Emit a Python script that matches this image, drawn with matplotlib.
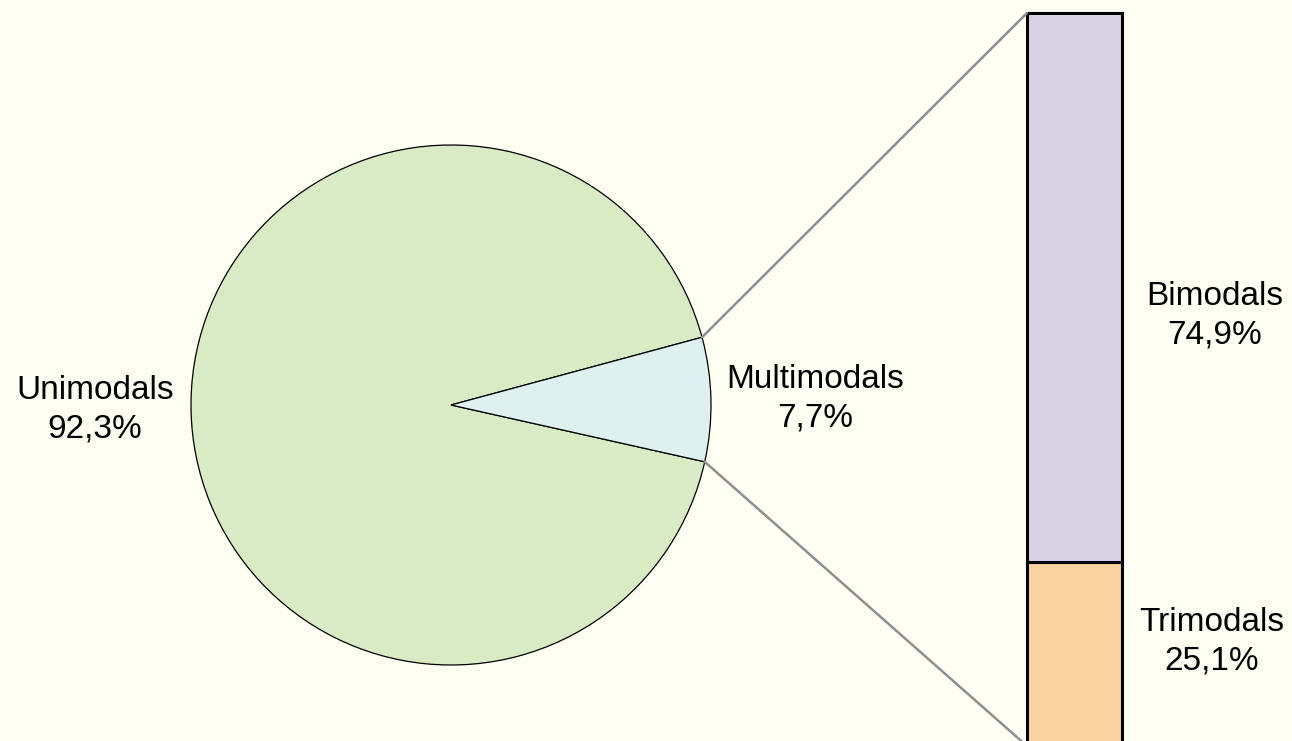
import matplotlib
matplotlib.use("Agg")
import matplotlib.pyplot as plt
from matplotlib.patches import ConnectionPatch
import numpy as np

# pie data
pie_labels = ["Unimodals", "Multimodals"]
pie_values = [92.3, 7.7]
pie_colors = ["#D8EBC5", "#DFF0F0"]

# breakdown of the multimodal slice
bar_labels = ["Trimodals", "Bimodals"]
bar_values = [25.1, 74.9]
bar_colors = ["#FAD1A0", "#D9D2E4"]

W, H = 1292, 741
BG = "#FEFFF2"

plt.rcParams["font.family"] = ["Liberation Sans", "DejaVu Sans"]


def pct(v):
    return f"{v:.1f}%".replace(".", ",")


fig = plt.figure(figsize=(W / 100, H / 100), dpi=100, facecolor=BG)

# pie: centre (451, 405) px from top, radius 260 px
cx, cy, r = 451, H - 405, 260
ax_pie = fig.add_axes([(cx - r) / W, (cy - r) / H, 2 * r / W, 2 * r / H])
ax_pie.set_facecolor("none")
start = 15.1
wedges, _ = ax_pie.pie(
    pie_values,
    colors=pie_colors,
    startangle=start,
    radius=1,
    wedgeprops=dict(edgecolor="black", linewidth=0.9),
)
ax_pie.set_xlim(-1, 1)
ax_pie.set_ylim(-1, 1)
ax_pie.set_aspect("equal")
ax_pie.axis("off")

# stacked bar on the right, bottom runs off the canvas
bx0, bx1, btop = 1027, 1122, H - 13
ax_bar = fig.add_axes([bx0 / W, -5 / H, (bx1 - bx0) / W, (btop + 5) / H])
ax_bar.set_facecolor("none")
bottom = 0
for val, col in zip(bar_values, bar_colors):
    ax_bar.bar(0, val, width=1, bottom=bottom, color=col,
               edgecolor="black", linewidth=2.2, clip_on=False)
    bottom += val
ax_bar.set_xlim(-0.5, 0.5)
ax_bar.set_ylim(0, sum(bar_values))
ax_bar.axis("off")

# connector lines from the multimodal wedge edges to the bar corners
theta1 = np.deg2rad(wedges[1].theta1)
theta2 = np.deg2rad(wedges[1].theta2)
for th, yb in [(theta2, sum(bar_values)), (theta1, 0)]:
    con = ConnectionPatch(
        xyA=(np.cos(th), np.sin(th)), coordsA=ax_pie.transData,
        xyB=(-0.5, yb), coordsB=ax_bar.transData,
        color="#8F8F8F", linewidth=1.8,
    )
    fig.add_artist(con)

# labels
fs = 24
label_pos = {
    "Unimodals": (95, 410),
    "Multimodals": (815, 399),
    "Bimodals": (1215, 316),
    "Trimodals": (1212, 642),
}
for name, val in list(zip(pie_labels, pie_values)) + list(zip(bar_labels, bar_values)):
    x, y = label_pos[name]
    fig.text(x / W, 1 - y / H, f"{name}\n{pct(val)}", ha="center", va="center",
             fontsize=fs, linespacing=1.32, color="black")

fig.savefig("out.png", dpi=100, facecolor=BG)
